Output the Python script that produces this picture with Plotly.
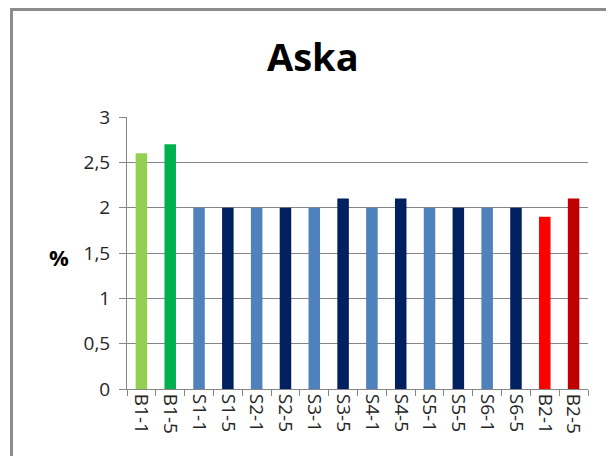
import plotly.graph_objects as go

categories = ["B1-1", "B1-5", "S1-1", "S1-5", "S2-1", "S2-5", "S3-1", "S3-5",
              "S4-1", "S4-5", "S5-1", "S5-5", "S6-1", "S6-5", "B2-1", "B2-5"]
values = [2.6, 2.7, 2.0, 2.0, 2.0, 2.0, 2.0, 2.1,
          2.0, 2.1, 2.0, 2.0, 2.0, 2.0, 1.9, 2.1]
colors = ["#92D050", "#00B050", "#4F81BD", "#002060", "#4F81BD", "#002060",
          "#4F81BD", "#002060", "#4F81BD", "#002060", "#4F81BD", "#002060",
          "#4F81BD", "#002060", "#FF0000", "#C00000"]
y_ticks = [0, 0.5, 1, 1.5, 2, 2.5, 3]

W, H = 614, 456
OFF = 8  # page body margin
L, T = 127 - OFF, 117 - OFF
R = W - (588 - OFF)
B = H - (389 - OFF)
pw, ph = W - L - R, H - T - B


def px_x(px):  # page pixel -> paper x
    return (px - OFF - L) / pw


def px_y(py):  # page pixel -> paper y
    return (H - B - (py - OFF)) / ph


fig = go.Figure(go.Bar(x=categories, y=values, marker=dict(color=colors, line=dict(width=0)),
                       width=0.4))

fig.update_layout(
    width=W, height=H,
    margin=dict(l=L, r=R, t=T, b=B),
    paper_bgcolor="white", plot_bgcolor="white",
    separators=", ",
    showlegend=False,
    font=dict(family="Open Sans", color="#262626", size=17),
    xaxis=dict(type="category", tickangle=90, showgrid=False, showline=True,
               linecolor="#868686", linewidth=1, ticks="outside", tickson="boundaries",
               ticklen=6, tickcolor="#868686", tickfont=dict(size=19),
               range=[-0.5, len(categories) - 0.5]),
    yaxis=dict(range=[0, 3], tickvals=y_ticks, tickformat=".1~f",
               showgrid=True, gridcolor="#868686", gridwidth=1,
               showline=True, linecolor="#868686", linewidth=1,
               ticks="outside", ticklen=7, tickcolor="#868686",
               tickfont=dict(size=19), zeroline=False, ticklabelstandoff=5),
)

fig.add_annotation(text="<b>Aska</b>", xref="paper", yref="paper",
                   x=px_x(313), y=px_y(56), showarrow=False,
                   font=dict(size=38, color="black"), xanchor="center", yanchor="middle")

fig.add_annotation(text="<b>%</b>", xref="paper", yref="paper",
                   x=px_x(59), y=px_y(257), showarrow=False,
                   font=dict(size=22, color="black"), xanchor="center", yanchor="middle")

# outer chart border (top edge clamped to the top of the figure)
fig.add_shape(type="rect", xref="paper", yref="paper",
              x0=px_x(11.5), x1=px_x(W + 20),
              y0=px_y(H + 20), y1=px_y(OFF + 1.5),
              line=dict(color="#8c8c8c", width=3), fillcolor="rgba(0,0,0,0)", layer="below")

fig.write_html("out.html")
